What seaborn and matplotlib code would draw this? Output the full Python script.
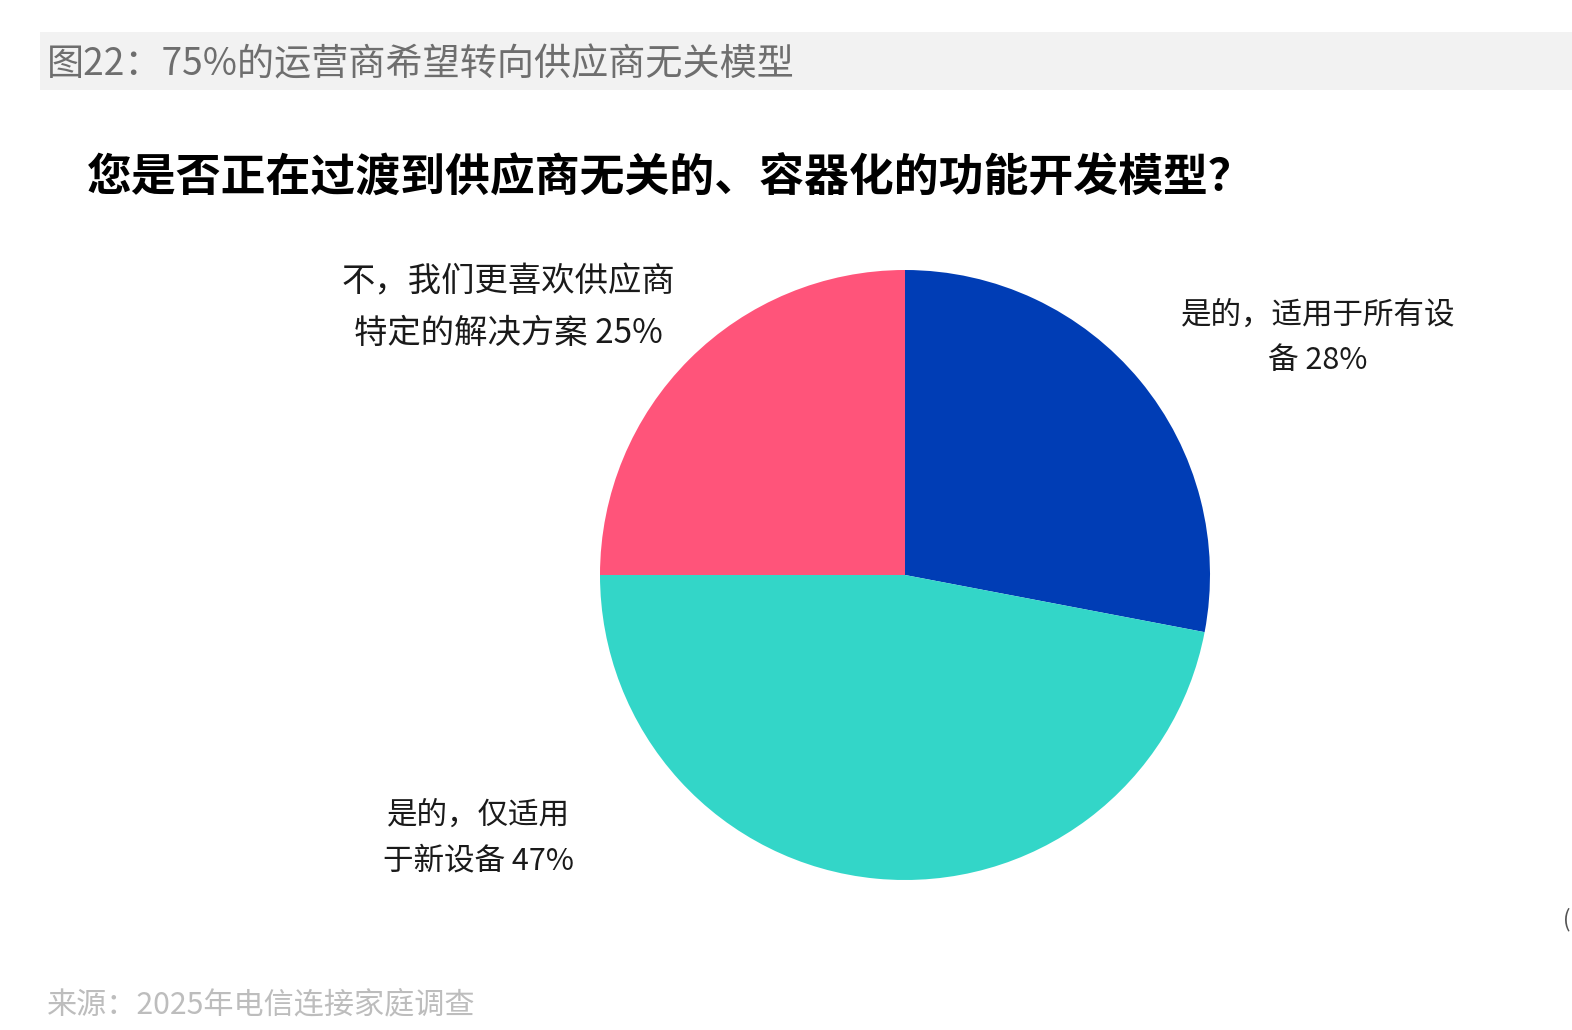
import matplotlib
matplotlib.use("Agg")
import matplotlib.pyplot as plt
import seaborn as sns
from matplotlib.patches import Rectangle

# data
categories = ["是的，适用于所有设备", "是的，仅适用于新设备", "不，我们更喜欢供应商特定的解决方案"]
shares = [28, 47, 25]
labels = ["是的，适用于所有设\n备 28%", "是的，仅适用\n于新设备 47%", "不，我们更喜欢供应商\n特定的解决方案 25%"]
colors = ["#003DB5", "#33D6C8", "#FF547A"]

header = "图22：75%的运营商希望转向供应商无关模型"
question = "您是否正在过渡到供应商无关的、容器化的功能开发模型？"
source = "来源：2025年电信连接家庭调查"

sns.set_theme(style="white")
plt.rcParams["font.family"] = ["Noto Sans CJK SC", "DejaVu Sans"]

W, H = 1572, 1030
fig = plt.figure(figsize=(W / 100, H / 100), dpi=100)
fig.patch.set_facecolor("white")


def fx(x):
    return x / W


def fy(y):
    return 1 - y / H


# header band
fig.patches.append(Rectangle((fx(40), fy(90)), 1 - fx(40), (90 - 32) / H,
                             transform=fig.transFigure, facecolor="#F2F2F2",
                             edgecolor="none", zorder=0))
fig.text(fx(47), fy(65), header, fontsize=26.7, color="#6E6E6E",
         fontweight="light", va="center", ha="left")

fig.text(fx(87), fy(179), question, fontsize=32.3, color="black",
         fontweight="bold", va="center", ha="left")

# pie
cx, cy, r = 905, 575, 305
ax = fig.add_axes([fx(cx - r), fy(cy + r), 2 * r / W, 2 * r / H])
ax.pie(shares, colors=colors, startangle=90, counterclock=False,
       wedgeprops=dict(linewidth=0))
ax.set_xlim(-1, 1)
ax.set_ylim(-1, 1)
ax.axis("off")

label_pos = [(1318, 338), (478, 838), (508, 308)]
label_size = [22, 22, 24]
for (x, y), s, txt in zip(label_pos, label_size, labels):
    fig.text(fx(x), fy(y), txt, fontsize=s, color="#1A1A1A", ha="center",
             va="center", linespacing=1.62, fontweight="light")

fig.text(fx(47), fy(1005), source, fontsize=21.7, color="#BDBDBD",
         fontweight="light", va="center", ha="left")
fig.text(fx(1563), fy(920), "(", fontsize=16, color="#555555",
         va="center", ha="left")

fig.savefig("out.png", dpi=100)
